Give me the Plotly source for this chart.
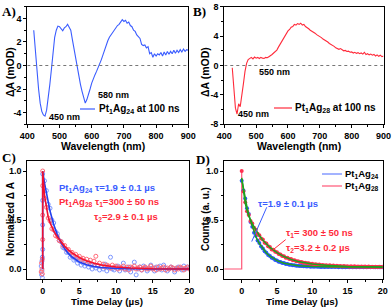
import plotly.graph_objects as go

# ---------------- data ----------------
# Panel A: Pt1Ag24 transient absorption at 100 ns (wavelength step 5 nm from 420)
a_wl_start, a_wl_step = 420, 5
a_dA = [3.0, 1.2, -0.5, -2.0, -3.2, -3.9, -4.2, -4.3, -3.8, -2.9,
        -1.6, -0.3, 1.2, 2.4, 3.0, 3.35, 3.3, 3.1, 2.95, 3.2,
        3.3, 3.5, 3.2, 3.0, 2.2, 1.4, 0.6, -0.2, -0.9, -1.6,
        -2.2, -2.8, -3.2, -2.9, -2.5, -2.0, -1.5, -1.1, -0.8, -0.5,
        -0.2, 0.1, 0.5, 0.9, 1.3, 1.8, 2.1, 2.4, 2.6, 2.9,
        3.0, 3.3, 3.4, 3.5, 3.7, 3.9, 3.75, 3.85, 3.6, 3.7,
        3.4, 3.3, 3.0, 2.9, 2.6, 2.4, 2.3, 1.8, 1.7, 1.75,
        1.5, 1.6, 1.0, 1.1, 0.7, 1.0, 0.8, 1.0, 0.9, 1.1,
        0.8, 1.15, 0.9, 1.2, 0.95, 1.2, 1.0, 1.3, 1.05, 1.3,
        1.1, 1.35, 1.15, 1.4, 1.2, 1.35, 1.3]

# Panel B: Pt1Ag28 transient absorption at 100 ns (wavelength step 5 nm from 425)
b_wl_start, b_wl_step = 425, 5
b_dA = [-0.3, -3.0, -5.8, -6.6, -5.2, -5.6, -4.3, -2.5, -0.8, 0.3,
        0.8, 1.0, 1.1, 0.9, 1.15, 1.0, 1.1, 0.95, 1.1, 1.0,
        0.95, 1.1, 1.05, 1.2, 1.3, 1.5, 1.7, 1.9, 2.1, 2.5,
        2.9, 3.2, 3.6, 4.0, 4.3, 4.7, 4.9, 5.2, 5.3, 5.6,
        5.5, 5.7, 5.6, 5.75, 5.5, 5.6, 5.3, 5.2, 5.0, 4.8,
        4.7, 4.5, 4.4, 4.2, 4.1, 3.9, 3.8, 3.6, 3.5, 3.3,
        3.2, 3.0, 2.9, 2.7, 2.6, 2.4, 2.3, 2.2, 2.3, 2.1,
        2.0, 2.05, 1.9, 1.95, 1.8, 1.85, 1.7, 1.8, 1.65, 1.75,
        1.6, 1.7, 1.55, 1.8, 1.5, 1.6, 1.45, 1.55, 1.4, 1.5,
        1.3, 1.45, 1.25, 1.4, 1.2, 1.3]

# Panel C: normalized ΔA kinetics (time step 0.25 µs from 0)
c_step = 0.25
c_blue = [0.97, 0.90, 0.80, 0.66, 0.62, 0.50, 0.47, 0.38, 0.36, 0.29,
          0.28, 0.22, 0.21, 0.17, 0.17, 0.12, 0.13, 0.09, 0.10, 0.06,
          0.08, 0.04, 0.06, 0.03, 0.05, 0.02, 0.04, 0.00, 0.03, 0.01,
          0.03, -0.01, 0.02, 0.00, 0.05, -0.02, 0.01, 0.12, 0.00, -0.01,
          0.02, 0.03, -0.02, 0.01, 0.06, -0.01, 0.00, 0.02, -0.03, 0.01,
          0.07, -0.06, 0.00, 0.02, -0.01, 0.03, 0.01, -0.02, 0.00, 0.04,
          0.01, -0.02, 0.02, 0.00, 0.03, -0.01, 0.04, 0.01, -0.02, 0.00,
          0.02, 0.01, -0.03, 0.00, 0.02, 0.01, -0.01, 0.03, 0.00, 0.02, 0.01]
c_red = [1.00, 0.72, 0.63, 0.52, 0.49, 0.41, 0.40, 0.34, 0.33, 0.29,
         0.28, 0.24, 0.24, 0.20, 0.20, 0.17, 0.17, 0.14, 0.15, 0.12,
         0.13, 0.10, 0.11, 0.08, 0.10, 0.07, 0.09, 0.05, 0.08, 0.13,
         0.04, 0.06, 0.03, 0.05, 0.02, 0.04, 0.03, 0.01, 0.04, 0.02,
         0.03, 0.00, 0.02, 0.01, 0.03, 0.00, 0.02, -0.01, 0.02, 0.01,
         0.03, 0.00, 0.01, 0.02, -0.01, 0.01, 0.02, 0.00, 0.01, 0.03,
         0.00, 0.01, -0.01, 0.02, 0.00, 0.01, 0.02, -0.01, 0.01, 0.00,
         0.02, 0.01, -0.01, 0.01, 0.00, 0.02, 0.01, -0.01, 0.01, 0.02, 0.00]
c_pre_blue_t = [-0.2, -0.15, -0.1, -0.1, -0.05, -0.05, 0.0, 0.0, 0.0]
c_pre_blue_y = [0.03, -0.06, 0.08, -0.02, 0.12, -0.09, 0.2, 0.45, 0.7]
c_pre_red_t = [-0.2, -0.15, -0.1, -0.05, -0.05, 0.0, 0.0, 0.0]
c_pre_red_y = [-0.03, 0.06, 0.0, 0.10, -0.05, 0.3, 0.55, 0.85]
fit_t = [0, 0, 0.25, 0.5, 0.75, 1, 1.5, 2, 2.5, 3, 3.5, 4, 5, 6, 7, 8, 10, 12, 15, 20]
c_fit_blue = [0, 1.0, 0.877, 0.769, 0.674, 0.591, 0.454, 0.349, 0.268, 0.206,
              0.159, 0.122, 0.072, 0.043, 0.025, 0.015, 0.005, 0.002, 0.0, 0.0]
c_fit_red = [0, 1.0, 0.748, 0.613, 0.531, 0.473, 0.389, 0.326, 0.274, 0.231,
             0.194, 0.164, 0.116, 0.082, 0.058, 0.041, 0.021, 0.010, 0.003, 0.0]

# Panel D: emission decay counts (time step 0.25 µs from 0)
d_step = 0.25
d_blue = [0.90, 0.80, 0.72, 0.62, 0.56, 0.48, 0.43, 0.37, 0.34, 0.29,
          0.265, 0.23, 0.21, 0.18, 0.165, 0.143, 0.132, 0.114, 0.106, 0.092,
          0.087, 0.075, 0.071, 0.062, 0.060, 0.052, 0.051, 0.044, 0.044, 0.038,
          0.038, 0.033, 0.034, 0.030, 0.031, 0.027, 0.029, 0.025, 0.027, 0.024,
          0.026, 0.023, 0.025, 0.022, 0.024, 0.021, 0.024, 0.021, 0.023, 0.020,
          0.023, 0.020, 0.022, 0.020, 0.022, 0.019, 0.022, 0.019, 0.021, 0.019,
          0.021, 0.019, 0.021, 0.018, 0.021, 0.018, 0.020, 0.018, 0.020, 0.018,
          0.020, 0.018, 0.020, 0.017, 0.020, 0.017, 0.019, 0.017, 0.019, 0.017, 0.019]
d_red = [1.00, 0.79, 0.68, 0.59, 0.55, 0.49, 0.465, 0.42, 0.40, 0.36,
         0.345, 0.31, 0.30, 0.268, 0.26, 0.232, 0.225, 0.20, 0.196, 0.175,
         0.170, 0.152, 0.149, 0.133, 0.130, 0.116, 0.115, 0.102, 0.101, 0.090,
         0.090, 0.080, 0.080, 0.071, 0.072, 0.064, 0.065, 0.058, 0.059, 0.052,
         0.054, 0.047, 0.049, 0.043, 0.045, 0.039, 0.041, 0.036, 0.039, 0.033,
         0.037, 0.031, 0.035, 0.029, 0.033, 0.028, 0.031, 0.026, 0.030, 0.025,
         0.029, 0.024, 0.028, 0.023, 0.027, 0.023, 0.026, 0.022, 0.026, 0.022,
         0.025, 0.021, 0.025, 0.021, 0.024, 0.020, 0.024, 0.020, 0.023, 0.020, 0.022]
d_pre_t = [-2.5, 0.0, 0.0]
d_pre_y = [0.0, 0.0, 1.0]
d_fit_t = [0, 0.25, 0.5, 0.75, 1, 1.5, 2, 2.5, 3, 3.5, 4, 5, 6, 7, 8, 10, 12, 15, 20]
d_fit_blue = [0.92, 0.81, 0.71, 0.63, 0.55, 0.43, 0.33, 0.26, 0.205, 0.163,
              0.13, 0.085, 0.059, 0.043, 0.033, 0.025, 0.022, 0.021, 0.02]
d_fit_red = [0.93, 0.79, 0.67, 0.60, 0.54, 0.46, 0.395, 0.341, 0.294, 0.255,
             0.221, 0.167, 0.127, 0.098, 0.077, 0.051, 0.037, 0.026, 0.021]

# ---------------- styles ----------------
BLUE = "#3a5cff"
RED = "#ff2b3b"
W, H = 392, 307


def grid(start, step, n):
    return [start + i * step for i in range(n)]


def px(x):
    return x / W


def py(y):
    return 1 - y / H


fig = go.Figure()

# A
fig.add_trace(go.Scatter(x=grid(a_wl_start, a_wl_step, len(a_dA)), y=a_dA, mode="lines",
                         line=dict(color=BLUE, width=1.1), xaxis="x", yaxis="y", showlegend=False))
# B
fig.add_trace(go.Scatter(x=grid(b_wl_start, b_wl_step, len(b_dA)), y=b_dA, mode="lines",
                         line=dict(color=RED, width=1.1), xaxis="x2", yaxis="y2", showlegend=False))
# C
fig.add_trace(go.Scatter(x=c_pre_blue_t + grid(0, c_step, len(c_blue)), y=c_pre_blue_y + c_blue,
                         mode="markers", marker=dict(symbol="circle-open", size=4, color="#7b95ff",
                                                     line=dict(width=1)),
                         xaxis="x3", yaxis="y3", showlegend=False))
fig.add_trace(go.Scatter(x=c_pre_red_t + grid(0, c_step, len(c_red)), y=c_pre_red_y + c_red,
                         mode="markers", marker=dict(symbol="circle-open", size=4, color="#ff6a78",
                                                     line=dict(width=1)),
                         xaxis="x3", yaxis="y3", showlegend=False))
fig.add_trace(go.Scatter(x=fit_t, y=c_fit_blue, mode="lines", line=dict(color="#2240ee", width=1.6),
                         xaxis="x3", yaxis="y3", showlegend=False))
fig.add_trace(go.Scatter(x=fit_t, y=c_fit_red, mode="lines", line=dict(color="#f01030", width=1.6),
                         xaxis="x3", yaxis="y3", showlegend=False))
# D
fig.add_trace(go.Scatter(x=d_pre_t, y=d_pre_y, mode="lines", line=dict(color="#ff5577", width=1.2),
                         xaxis="x4", yaxis="y4", showlegend=False))
fig.add_trace(go.Scatter(x=grid(0, d_step, len(d_blue)), y=d_blue, mode="markers",
                         marker=dict(size=4, color="#2a55ff"), xaxis="x4", yaxis="y4", showlegend=False))
fig.add_trace(go.Scatter(x=grid(0, d_step, len(d_red)), y=d_red, mode="markers",
                         marker=dict(size=4, color="#ff3050"), xaxis="x4", yaxis="y4", showlegend=False))
fig.add_trace(go.Scatter(x=d_fit_t, y=d_fit_blue, mode="lines", line=dict(color="#1fa01f", width=1.5),
                         xaxis="x4", yaxis="y4", showlegend=False))
fig.add_trace(go.Scatter(x=d_fit_t, y=d_fit_red, mode="lines", line=dict(color="#1fa01f", width=1.5),
                         xaxis="x4", yaxis="y4", showlegend=False))

axis_common = dict(showline=True, linecolor="black", linewidth=1.2, mirror=True,
                   ticks="outside", ticklen=3, tickwidth=1, tickcolor="black",
                   showgrid=False, zeroline=False, automargin=False,
                   tickfont=dict(size=9, family="Liberation Sans", color="black", weight="bold"))

dom_A_x = [px(27.3), px(188.3)]
dom_B_x = [px(224.3), px(383.5)]
dom_C_x = [px(27.3), px(189.3)]
dom_D_x = [px(224.3), px(382.7)]
dom_top_y = [py(124.3), py(6.7)]
dom_bot_y = [py(278.8), py(161.2)]

fig.update_layout(
    template="none",
    width=W, height=H, margin=dict(l=0, r=0, t=0, b=0, autoexpand=False),
    paper_bgcolor="white", plot_bgcolor="white",
    font=dict(family="Liberation Sans", size=10, color="black", weight="bold"),
    xaxis=dict(domain=dom_A_x, anchor="y", range=[400, 900], dtick=100,
               minor=dict(ticks="outside", ticklen=2, dtick=50, tickcolor="black"), **axis_common),
    yaxis=dict(domain=dom_top_y, anchor="x", range=[-5, 5], tickvals=[-4, -2, 0, 2, 4],
               ticktext=["-4", "-2", "0", "2", "4"],
               minor=dict(ticks="outside", ticklen=2, dtick=1, tickcolor="black"), **axis_common),
    xaxis2=dict(domain=dom_B_x, anchor="y2", range=[400, 900], dtick=100,
                minor=dict(ticks="outside", ticklen=2, dtick=50, tickcolor="black"), **axis_common),
    yaxis2=dict(domain=dom_top_y, anchor="x2", range=[-8, 8], tickvals=[-8, -4, 0, 4, 8],
                ticktext=["-8", "-4", "0", "4", "8"],
                minor=dict(ticks="outside", ticklen=2, dtick=2, tickcolor="black"), **axis_common),
    xaxis3=dict(domain=dom_C_x, anchor="y3", range=[-2.1, 20], tickvals=[0, 5, 10, 15, 20],
                minor=dict(ticks="outside", ticklen=2, tickvals=[2.5, 7.5, 12.5, 17.5], tickcolor="black"),
                **axis_common),
    yaxis3=dict(domain=dom_bot_y, anchor="x3", range=[-0.1, 1.1], tickvals=[0, 0.5, 1.0],
                tickformat=".1f", minor=dict(ticks="outside", ticklen=2, tickvals=[0.25, 0.75], tickcolor="black"),
                **axis_common),
    xaxis4=dict(domain=dom_D_x, anchor="y4", range=[-2.47, 20], tickvals=[0, 5, 10, 15, 20],
                minor=dict(ticks="outside", ticklen=2, tickvals=[-2.5, 2.5, 7.5, 12.5, 17.5], tickcolor="black"),
                **axis_common),
    yaxis4=dict(domain=dom_bot_y, anchor="x4", range=[-0.1, 1.1], tickvals=[0, 0.5, 1.0],
                tickformat=".1f", minor=dict(ticks="outside", ticklen=2, tickvals=[0.25, 0.75], tickcolor="black"),
                **axis_common),
)

# zero reference lines in A and B
for xr, yr in (("x", "y"), ("x2", "y2")):
    fig.add_shape(type="line", xref=xr, yref=yr, x0=400, x1=900, y0=0, y1=0,
                  line=dict(color="#777777", width=1, dash="dot"))

ann = []


def text(x, y, s, size=10, color="black", xanchor="left", family="Liberation Sans", angle=0):
    ann.append(dict(x=px(x), y=py(y), xref="paper", yref="paper", text=s, showarrow=False,
                    xanchor=xanchor, yanchor="middle", textangle=angle,
                    font=dict(size=size, color=color, family=family, weight="bold")))


# panel labels
text(0, 11, "A)", size=13, family="Liberation Serif")
text(191, 11, "B)", size=13, family="Liberation Serif")
text(0, 157.5, "C)", size=13, family="Liberation Serif")
text(194, 159, "D)", size=13, family="Liberation Serif")

# axis titles
text(103, 146, "Wavelength (nm)", size=10.5, xanchor="center")
text(299, 146, "Wavelength (nm)", size=10.5, xanchor="center")
text(107, 301, "Time Delay (µs)", size=9.8, xanchor="center")
text(302, 301, "Time Delay (µs)", size=9.8, xanchor="center")
text(10, 72, "ΔA (mOD)", size=10.5, xanchor="center", angle=-90)
text(205, 72, "ΔA (mOD)", size=10.5, xanchor="center", angle=-90)
text(10, 219, "Normalized Δ A", size=10, xanchor="center", angle=-90)
text(205, 219, "Counts (a. u.)", size=10, xanchor="center", angle=-90)

# A annotations
text(47, 117, "450 nm", size=9)
text(96, 95, "580 nm", size=9)
text(97, 109, "Pt<sub>1</sub>Ag<sub>24</sub> at 100 ns", size=10)
# B annotations
text(236, 114, "450 nm", size=9)
text(257, 72, "550 nm", size=9)
text(293, 108, "Pt<sub>1</sub>Ag<sub>28</sub> at 100 ns", size=10)

# C annotations
text(57, 188, "Pt<sub>1</sub>Ag<sub>24</sub> τ=1.9 ± 0.1 µs", size=9.5, color=BLUE)
text(57, 202, "Pt<sub>1</sub>Ag<sub>28</sub> τ<sub>1</sub>=300 ± 50 ns", size=9.5, color=RED)
text(92, 217, "τ<sub>2</sub>=2.9 ± 0.1 µs", size=9.5, color=RED)

# D annotations
text(343, 174, "Pt<sub>1</sub>Ag<sub>24</sub>", size=9.5)
text(343, 186, "Pt<sub>1</sub>Ag<sub>28</sub>", size=9.5)
text(256, 203, "τ=1.9 ± 0.1 µs", size=9.5, color=BLUE)
text(284, 233, "τ<sub>1</sub>= 300 ± 50 ns", size=9.5, color=RED)
text(284, 248, "τ<sub>2</sub>=3.2 ± 0.2 µs", size=9.5, color=RED)

fig.update_layout(annotations=ann)

# legend sample lines (paper coords)
for (x0, x1, y, c) in ((80, 95, 109, BLUE), (274, 292, 108, RED),
                       (322, 342, 174, "#6680ff"), (322, 342, 186, "#ff5577")):
    fig.add_shape(type="line", xref="paper", yref="paper", x0=px(x0), x1=px(x1), y0=py(y), y1=py(y),
                  line=dict(color=c, width=1.2))

# pointer lines in D (data coords)
fig.add_shape(type="line", xref="x4", yref="y4", x0=3.55, y0=0.63, x1=1.42, y1=0.28,
              line=dict(color=BLUE, width=1))
fig.add_shape(type="line", xref="x4", yref="y4", x0=6.24, y0=0.30, x1=4.34, y1=0.19,
              line=dict(color=RED, width=1))

fig.write_html("out.html", config={"displayModeBar": False},
               post_script="document.body.style.margin='0';document.body.style.padding='0';")
